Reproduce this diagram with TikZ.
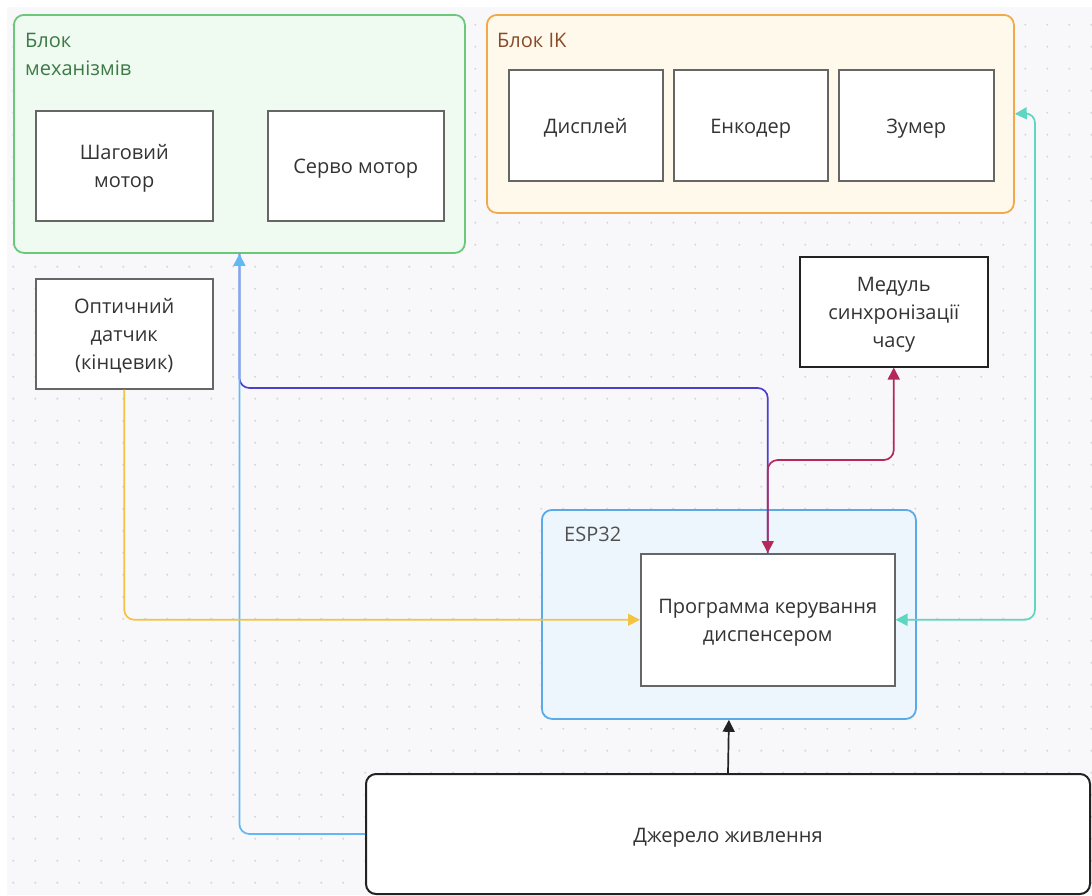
\documentclass[tikz,border=0pt]{standalone}
\usepackage{fontspec}
\setmainfont{Open Sans}
\usetikzlibrary{arrows.meta,calc}
\definecolor{canvas}{HTML}{F8F8FA}
\definecolor{dotc}{HTML}{D6D6DB}
\definecolor{gfill}{HTML}{EFFAF1}
\definecolor{gline}{HTML}{6BC87A}
\definecolor{gtext}{HTML}{3D7A46}
\definecolor{ofill}{HTML}{FEF9EB}
\definecolor{oline}{HTML}{F1A94A}
\definecolor{otext}{HTML}{8A4B2A}
\definecolor{bfill}{HTML}{EEF6FD}
\definecolor{bline}{HTML}{5BAAE8}
\definecolor{btext}{HTML}{505050}
\definecolor{nodeb}{HTML}{666666}
\definecolor{txt}{HTML}{333333}
\definecolor{cyel}{HTML}{F5C342}
\definecolor{cblue}{HTML}{62B8F5}
\definecolor{cpur}{HTML}{4B3FD0}
\definecolor{ccrim}{HTML}{B5295A}
\definecolor{cteal}{HTML}{5ED6C0}
\definecolor{cblk}{HTML}{222222}
\newcommand\sttop{\rule{0pt}{22.5pt}}
\newcommand\stbot{\rule[-6.5pt]{0pt}{0pt}}
\begin{document}
\begin{tikzpicture}[x=1pt,y=-1pt,
  grp/.style={rounded corners=10pt, line width=1.8pt, inner sep=0pt, anchor=north west},
  glabel/.style={anchor=north west, inner sep=0pt, align=left, font=\fontsize{20}{28}\selectfont},
  box/.style={draw=nodeb, fill=white, line width=1.5pt, inner sep=0pt, align=center, text=txt,
    anchor=north west, font=\fontsize{20}{28}\selectfont},
  conn/.style={line width=1.7pt, rounded corners=10pt},
  tip/.style={-{Triangle[length=12pt,width=12pt]}},
  tips/.style={{Triangle[length=12pt,width=12pt]}-{Triangle[length=12pt,width=12pt]}}
]
\useasboundingbox (0,0) rectangle (1092,895);
\fill[white] (0,0) rectangle (1092,895);
\fill[canvas] (7,7) rectangle (1092,895);
\foreach \i in {0,...,49} {
  \foreach \j in {0,...,39} {
    \fill[dotc] (13.3+22*\i, 24.7+22*\j) circle (1.1);
  }
}

% groups
\node[grp, fill=gfill, draw=gline, minimum width=451pt, minimum height=238pt] (mech) at (13,14) {};
\node[glabel, text=gtext] (mechl) at (25,33) {Блок\\механізмів};
\node[grp, fill=ofill, draw=oline, minimum width=527pt, minimum height=198pt] (ik) at (486,14) {};
\node[glabel, text=otext] (ikl) at (497,33) {Блок IK};
\node[grp, fill=bfill, draw=bline, minimum width=374pt, minimum height=209pt] (esp) at (541,509) {};
\node[glabel, text=btext] (espl) at (564,527) {ESP32};

% boxes
\node[box, minimum width=177pt, minimum height=110pt] (shag) at (35,110) {\sttop Шаговий\\мотор\stbot};
\node[box, minimum width=176pt, minimum height=110pt] (servo) at (267,110) {\sttop Серво мотор\stbot};
\node[box, minimum width=154pt, minimum height=111pt] (disp) at (508,69) {\sttop Дисплей\stbot};
\node[box, minimum width=154pt, minimum height=111pt] (enc) at (673,69) {\sttop Енкодер\stbot};
\node[box, minimum width=155pt, minimum height=111pt] (zum) at (838,69) {\sttop Зумер\stbot};
\node[box, minimum width=177pt, minimum height=110pt] (opt) at (35,278) {\sttop Оптичний\\датчик\\(кінцевик)\stbot};
\node[box, draw=cblk, minimum width=188pt, minimum height=110pt] (med) at (799,256) {\sttop Медуль\\синхронізації\\часу\stbot};
\node[box, minimum width=254pt, minimum height=132pt] (prog) at (640,553) {\sttop Программа керування\\диспенсером\stbot};
\node[box, draw=cblk, line width=2pt, rounded corners=10pt, minimum width=724pt, minimum height=120pt] (power) at (365,773) {\sttop Джерело живлення\stbot};

\coordinate (tc) at (1035,113);

% connectors
\draw[conn, cpur] (mech.south) -- (mech.south |- 0,388) -| (prog.north);
\draw[conn, cblue, tip] (power.west) -| (mech.south);
\draw[conn, cyel, tip] (opt.south) |- (prog.west);
\draw[conn, ccrim, tips] (prog.north) -- (prog.north |- 0,460) -| (med.south);
\draw[conn, cteal, tips] (prog.east) -| (tc) -- (ik.east);
\draw[conn, cblk, tip] (power.north) -- (esp.south);
\end{tikzpicture}
\end{document}
